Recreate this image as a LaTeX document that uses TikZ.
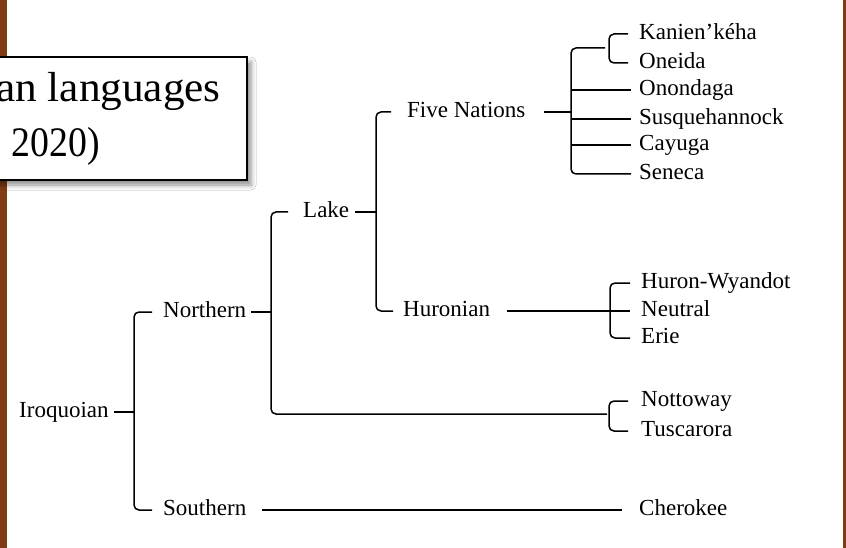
\documentclass[tikz,border=0pt]{standalone}
\usepackage{fontspec}
\setmainfont{Liberation Serif}
\usetikzlibrary{shadows.blur}
\definecolor{barbrown}{RGB}{128,60,16}
\begin{document}
\begin{tikzpicture}[x=1pt,y=-1pt]
\tikzset{
  lang/.style={anchor=west, inner sep=0pt, font=\fontsize{23}{26}\selectfont, text height=16pt, text depth=4.6pt},
  ttl/.style={anchor=base east, inner sep=0pt, font=\fontsize{42}{48}\selectfont},
  conn/.style={line width=1.5pt, black},
  br/.style={conn, rounded corners=5pt},
}
\useasboundingbox (0,0) rectangle (846,548);
\clip (0,0) rectangle (846,548);
\fill[white] (0,0) rectangle (846,548);
% side bars
\fill[barbrown] (0,0) rectangle (7,548);
\fill[barbrown] (843,0) rectangle (846,548);
% title box
\path[draw=black, line width=1.8pt, fill=white,
  blur shadow={shadow xshift=4pt, shadow yshift=-5pt, shadow blur radius=5pt, shadow opacity=45}]
  (-20,57) rectangle (247,180);
\node[ttl] (t1) at (221,102) {\scalebox{1.03}[1]{an languages}};
\node[ttl] (t2) at (100,157) {\scalebox{0.9}[1]{2020)}};
% nodes
\node[lang] (iro) at (19,412) {Iroquoian};
\node[lang] (nor) at (163,312) {Northern};
\node[lang] (sou) at (163,510) {Southern};
\node[lang] (lake) at (303,212) {Lake};
\node[lang] (five) at (407,112) {Five Nations};
\node[lang] (huro) at (403,311) {Huronian};
\node[lang] (kan) at (639,34) {Kanien’kéha};
\node[lang] (one) at (639,63) {Oneida};
\node[lang] (ono) at (639,90) {Onondaga};
\node[lang] (sus) at (639,119) {Susquehannock};
\node[lang] (cay) at (639,145) {Cayuga};
\node[lang] (sen) at (639,174) {Seneca};
\node[lang] (hw) at (641,283) {Huron-Wyandot};
\node[lang] (neu) at (641,311) {Neutral};
\node[lang] (eri) at (641,338) {Erie};
\node[lang] (not) at (641,401) {Nottoway};
\node[lang] (tus) at (641,431) {Tuscarora};
\node[lang] (che) at (639,510) {Cherokee};
% vertical guides
\coordinate (vI) at (134,0);
\coordinate (vN) at (271,0);
\coordinate (vL) at (376,0);
\coordinate (vF) at (571,0);
\coordinate (vK) at (609,0);
\coordinate (vH) at (610,0);
\coordinate (vT) at (609,0);
\coordinate (kb) at (605,48);
\coordinate (nb) at (607,414);
% Iroquoian
\draw[conn] ([xshift=5pt]iro.east) -- (vI |- iro.east);
\draw[br] ([xshift=-11pt]nor.west) -- (vI |- nor.west) -- (vI |- sou.west) -- ([xshift=-11pt]sou.west);
% Northern
\draw[conn] ([xshift=5pt]nor.east) -- (vN |- nor.east);
\draw[br] ([xshift=-15pt]lake.west) -- (vN |- lake.west) -- (vN |- nb) -- (nb);
% Southern
\draw[conn] ([xshift=16pt]sou.east) -- ([xshift=-17pt]che.west);
% Lake
\draw[conn] ([xshift=6pt]lake.east) -- (vL |- lake.east);
\draw[br] ([xshift=-16pt]five.west) -- (vL |- five.west) -- (vL |- huro.west) -- ([xshift=-10pt]huro.west);
% Five Nations
\draw[conn] ([xshift=18pt]five.east) -- (vF |- five.east);
\draw[br] (kb) -- (vF |- kb) -- (vF |- sen.west) -- ([xshift=-8pt]sen.west);
\draw[conn] (vF |- ono.west) -- ([xshift=-8pt]ono.west);
\draw[conn] (vF |- sus.west) -- ([xshift=-8pt]sus.west);
\draw[conn] (vF |- cay.west) -- ([xshift=-8pt]cay.west);
\draw[br] ([xshift=-11pt]kan.west) -- (vK |- kan.west) -- (vK |- one.west) -- ([xshift=-11pt]one.west);
% Huronian
\draw[conn] ([xshift=17pt]huro.east) -- ([xshift=-11pt]neu.west);
\draw[br] ([xshift=-11pt]hw.west) -- (vH |- hw.west) -- (vH |- eri.west) -- ([xshift=-11pt]eri.west);
% Nottoway / Tuscarora
\draw[br] ([xshift=-13pt]not.west) -- (vT |- not.west) -- (vT |- tus.west) -- ([xshift=-13pt]tus.west);
\end{tikzpicture}
\end{document}
